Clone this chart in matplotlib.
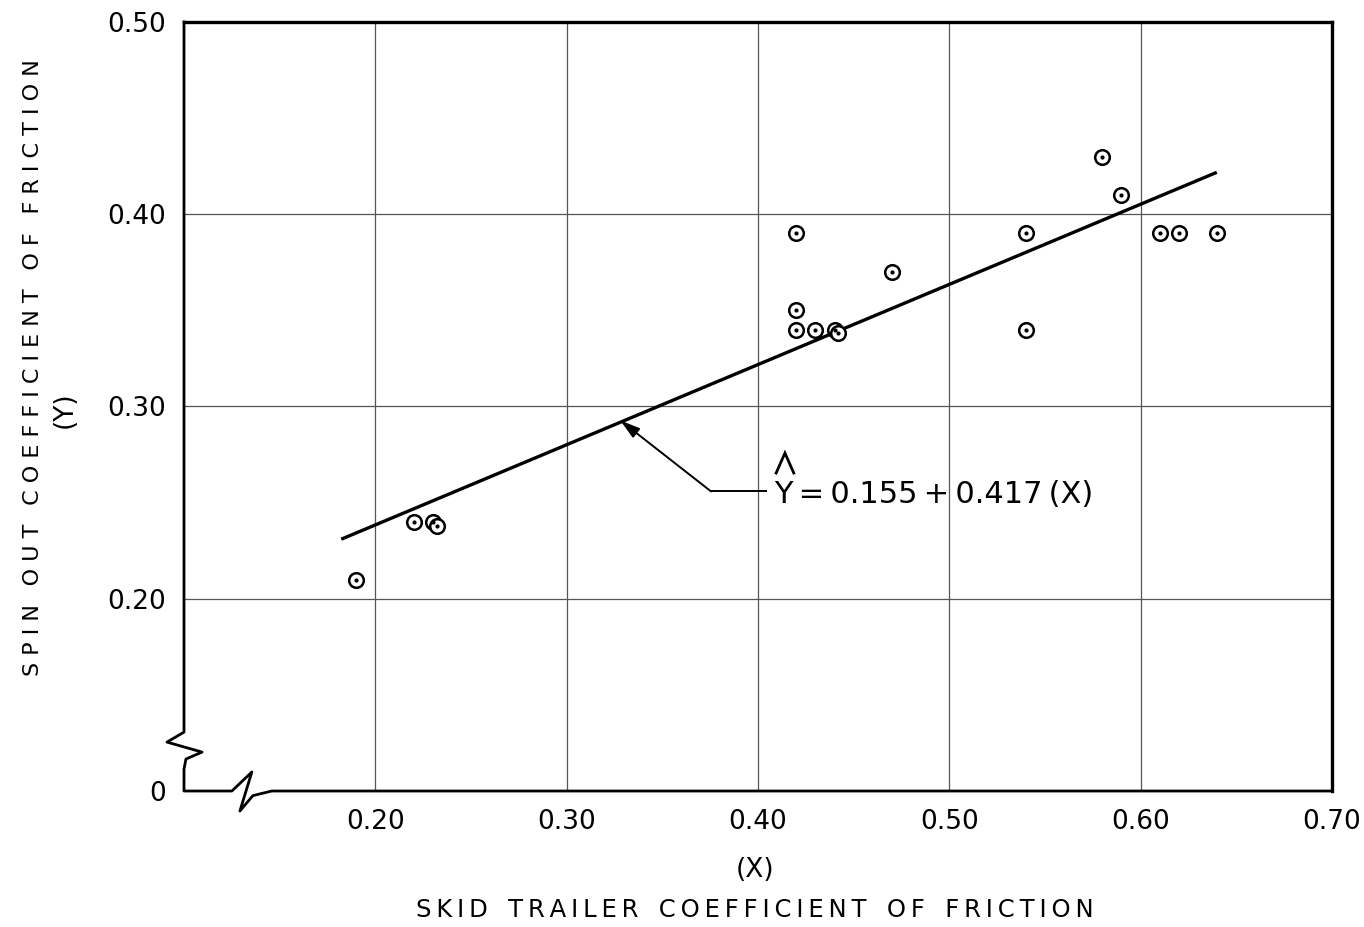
import matplotlib
matplotlib.use("Agg")
import matplotlib.pyplot as plt
from matplotlib.lines import Line2D

# skid trailer (x) vs spin out (y) coefficients of friction
skid_x = [0.19, 0.22, 0.23, 0.232, 0.42, 0.42, 0.42, 0.43, 0.44, 0.442,
          0.47, 0.54, 0.54, 0.58, 0.59, 0.61, 0.62, 0.64]
spin_y = [0.21, 0.24, 0.24, 0.238, 0.39, 0.35, 0.34, 0.34, 0.34, 0.338,
          0.37, 0.39, 0.34, 0.43, 0.41, 0.39, 0.39, 0.39]

intercept = 0.155
slope = 0.417
fit_range = [0.183, 0.639]

x_ticks = [0.20, 0.30, 0.40, 0.50, 0.60, 0.70]
x_labels = ["0.20", "0.30", "0.40", "0.50", "0.60", "0.70"]
y_ticks = [0.10, 0.20, 0.30, 0.40, 0.50]
y_labels = ["0", "0.20", "0.30", "0.40", "0.50"]

plt.rcParams["font.family"] = ["DejaVu Sans"]


def spaced(s, gap, word_gap):
    return word_gap.join(gap.join(w) for w in s.split())


fig = plt.figure(figsize=(13.64, 9.27), dpi=100)
ax = fig.add_axes([0.1349, 0.1467, 0.8416, 0.8296])
ax.set_xlim(0.10, 0.70)
ax.set_ylim(0.10, 0.50)

ax.set_xticks(x_ticks)
ax.set_xticklabels(x_labels, fontsize=19)
ax.set_yticks(y_ticks)
ax.set_yticklabels(y_labels, fontsize=19)
ax.tick_params(length=0, pad=13)

for gx in x_ticks[:-1]:
    ax.axvline(gx, color="#555555", lw=0.9, zorder=1)
for gy in y_ticks[1:-1]:
    ax.axhline(gy, color="#555555", lw=0.9, zorder=1)

for side in ("top", "right"):
    ax.spines[side].set_linewidth(2.4)
for side in ("left", "bottom"):
    ax.spines[side].set_visible(False)

# left and bottom axes drawn by hand so they can carry break marks
left_axis = [(0, 1), (0, 0.0766), (-0.0148, 0.0636), (0.0157, 0.0506),
             (0.0017, 0.0416), (0, 0.0286), (0, 0), (0.0417, 0),
             (0.0591, 0.0247), (0.0487, -0.026), (0.060, -0.006),
             (0.0765, 0), (1, 0)]
ax.add_line(Line2D([p[0] for p in left_axis], [p[1] for p in left_axis],
                   transform=ax.transAxes, color="black", lw=2.0,
                   clip_on=False, solid_joinstyle="round"))

# regression line
fx = fit_range
fy = [intercept + slope * v for v in fx]
ax.plot(fx, fy, color="black", lw=2.4, zorder=3)

# data points: open circle with centre dot
ax.plot(skid_x, spin_y, linestyle="none", marker="o", markersize=10.5,
        markerfacecolor="white", markeredgecolor="black",
        markeredgewidth=1.8, zorder=4)
ax.plot(skid_x, spin_y, linestyle="none", marker="o", markersize=2.0,
        color="black", zorder=5)

# equation label with leader arrow
eq_x, eq_y = 0.4083, 0.2496
tip_x = 0.328
ax.plot([0.4042, 0.3755], [0.2558, 0.2558], color="black", lw=1.4, zorder=3)
ax.annotate("", xy=(tip_x, intercept + slope * tip_x + 0.001),
            xytext=(0.3755, 0.2558),
            arrowprops=dict(arrowstyle="-|>,head_length=1.2,head_width=0.35",
                            color="black", lw=1.4, shrinkA=0, shrinkB=0))
ax.text(eq_x, eq_y, "Y\u2009=\u20090.155\u2009+\u20090.417\u2009(X)",
        fontsize=22, ha="left", va="baseline", zorder=6)
ax.plot([eq_x + 0.0012, eq_x + 0.0058, eq_x + 0.0104],
        [eq_y + 0.0158, eq_y + 0.0262, eq_y + 0.0158],
        color="black", lw=2.0, solid_joinstyle="miter", zorder=6)

fig.text(0.5535, 0.0615, "(X)", fontsize=19, ha="center", va="center")
fig.text(0.5535, 0.0183,
         spaced("SKID TRAILER COEFFICIENT OF FRICTION", "\u2009", " \u2009 "),
         fontsize=17.5, ha="center", va="center")
fig.text(0.0242, 0.603,
         spaced("SPIN OUT COEFFICIENT OF FRICTION", " ", "  \u2009"),
         fontsize=16, ha="center", va="center", rotation=90)
fig.text(0.0477, 0.5577, "(Y)", fontsize=19, ha="center", va="center",
         rotation=90)

fig.savefig("out.png", dpi=100, facecolor="white")
